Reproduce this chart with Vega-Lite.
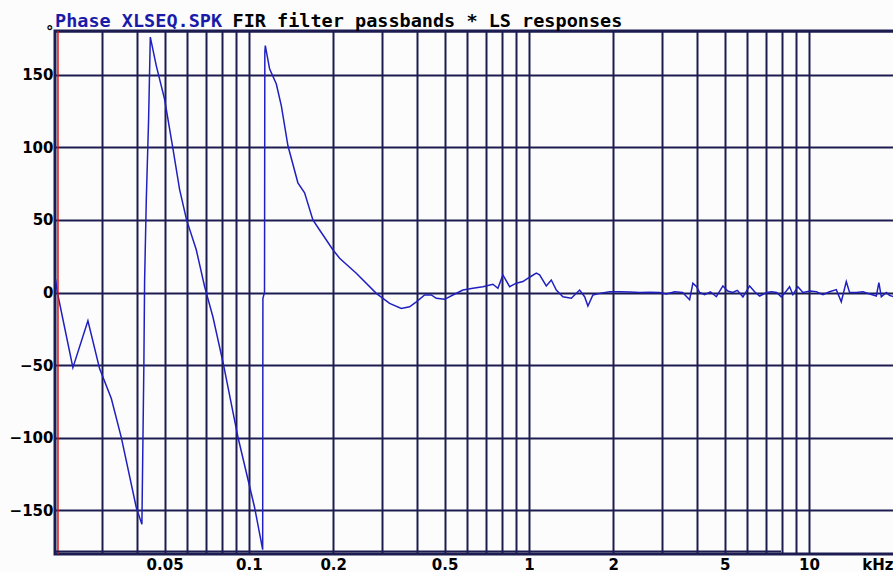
{
  "$schema": "https://vega.github.io/schema/vega-lite/v6.json",
  "autosize": "none",
  "width": 840,
  "height": 523,
  "padding": {"left": 55, "top": 31, "right": 0, "bottom": 18},
  "background": "#fcfcfc",
  "view": {"stroke": "#1c1c50", "strokeWidth": 3},
  "title": {
    "text": "Phase XLSEQ.SPK",
    "anchor": "start",
    "frame": "group",
    "offset": 5,
    "dy": 39,
    "baseline": "alphabetic",
    "font": "DejaVu Sans Mono",
    "fontSize": 18.5,
    "fontWeight": "bold",
    "color": "#1a1aa8"
  },
  "datasets": {
    "phase": [
      {"f": 0.0204, "v": 9},
      {"f": 0.0207, "v": 0},
      {"f": 0.02352, "v": -51.7},
      {"f": 0.02661, "v": -19.5},
      {"f": 0.02929, "v": -52.4},
      {"f": 0.03226, "v": -73},
      {"f": 0.03501, "v": -99.7},
      {"f": 0.03961, "v": -148},
      {"f": 0.04148, "v": -159.6},
      {"f": 0.04182, "v": -104},
      {"f": 0.04217, "v": -48},
      {"f": 0.04241, "v": 7.5},
      {"f": 0.04301, "v": 64},
      {"f": 0.04383, "v": 119},
      {"f": 0.04445, "v": 175.8},
      {"f": 0.0467, "v": 156},
      {"f": 0.05, "v": 133},
      {"f": 0.05354, "v": 99},
      {"f": 0.05655, "v": 71},
      {"f": 0.0599, "v": 50},
      {"f": 0.06487, "v": 29.4},
      {"f": 0.06948, "v": 4},
      {"f": 0.07437, "v": -16.7},
      {"f": 0.08121, "v": -50},
      {"f": 0.0915, "v": -100},
      {"f": 0.1048, "v": -148},
      {"f": 0.1120, "v": -177},
      {"f": 0.1122, "v": -4},
      {"f": 0.1137, "v": 0},
      {"f": 0.1140, "v": 165},
      {"f": 0.11444, "v": 170},
      {"f": 0.11854, "v": 154},
      {"f": 0.12529, "v": 143.5},
      {"f": 0.13058, "v": 128.5},
      {"f": 0.13785, "v": 101},
      {"f": 0.14962, "v": 75.5},
      {"f": 0.15808, "v": 68.6},
      {"f": 0.16928, "v": 50},
      {"f": 0.17886, "v": 43},
      {"f": 0.19953, "v": 29.4},
      {"f": 0.21085, "v": 23.6},
      {"f": 0.2418, "v": 13.3},
      {"f": 0.2851, "v": -0.6},
      {"f": 0.31805, "v": -7.5},
      {"f": 0.35018, "v": -11},
      {"f": 0.37497, "v": -9.8},
      {"f": 0.39627, "v": -6.4},
      {"f": 0.42413, "v": -1.7},
      {"f": 0.44812, "v": -1.7},
      {"f": 0.46697, "v": -4},
      {"f": 0.5, "v": -4.7},
      {"f": 0.53532, "v": -1.7},
      {"f": 0.58128, "v": 1.7},
      {"f": 0.63096, "v": 2.9},
      {"f": 0.68502, "v": 4},
      {"f": 0.74369, "v": 5.7},
      {"f": 0.77494, "v": 2.9},
      {"f": 0.80745, "v": 12.1},
      {"f": 0.85336, "v": 4},
      {"f": 0.90157, "v": 6.4},
      {"f": 0.95196, "v": 7.5},
      {"f": 1.0058, "v": 10.5},
      {"f": 1.0627, "v": 13.3},
      {"f": 1.092, "v": 12.1},
      {"f": 1.1537, "v": 4.5},
      {"f": 1.2023, "v": 8.6},
      {"f": 1.2527, "v": 1.7},
      {"f": 1.3225, "v": -2.9},
      {"f": 1.4171, "v": -4},
      {"f": 1.5175, "v": 1.7},
      {"f": 1.5811, "v": -2.9},
      {"f": 1.6247, "v": -9.3},
      {"f": 1.6928, "v": -1.7},
      {"f": 1.7886, "v": -0.6},
      {"f": 1.942, "v": 0.5},
      {"f": 2.1085, "v": 0.6},
      {"f": 2.2888, "v": 0.3},
      {"f": 2.4857, "v": 0},
      {"f": 2.6986, "v": 0.2},
      {"f": 2.93, "v": 0},
      {"f": 3.095, "v": -1},
      {"f": 3.315, "v": 0.5},
      {"f": 3.539, "v": 0},
      {"f": 3.749, "v": -5},
      {"f": 3.852, "v": 6.4},
      {"f": 3.971, "v": 4},
      {"f": 4.07, "v": 0},
      {"f": 4.241, "v": -1.5},
      {"f": 4.45, "v": 0.5},
      {"f": 4.67, "v": -2.9},
      {"f": 4.931, "v": 4.5},
      {"f": 5.13, "v": 1},
      {"f": 5.341, "v": 0},
      {"f": 5.55, "v": 1.5},
      {"f": 5.813, "v": -3},
      {"f": 6.142, "v": 4.5},
      {"f": 6.4, "v": 0.5},
      {"f": 6.668, "v": -2.4},
      {"f": 7.062, "v": 0},
      {"f": 7.35, "v": 0.5},
      {"f": 7.666, "v": 0},
      {"f": 7.968, "v": -3},
      {"f": 8.304, "v": 1},
      {"f": 8.533, "v": 4},
      {"f": 8.767, "v": -1.5},
      {"f": 9.134, "v": 4},
      {"f": 9.52, "v": 0},
      {"f": 10.1, "v": 1},
      {"f": 10.627, "v": 0.6},
      {"f": 11.22, "v": -1.5},
      {"f": 11.856, "v": 0.5},
      {"f": 12.527, "v": 2},
      {"f": 13.051, "v": -6.4},
      {"f": 13.6, "v": 7.5},
      {"f": 13.974, "v": 0},
      {"f": 14.767, "v": 0},
      {"f": 15.59, "v": 0.5},
      {"f": 16.5, "v": -1},
      {"f": 17.41, "v": -2.4},
      {"f": 17.78, "v": 6.8},
      {"f": 18.14, "v": -3},
      {"f": 18.9, "v": 0},
      {"f": 19.4, "v": -2},
      {"f": 20.2, "v": -3}
    ],
    "marker": [{"f": 0.0208}],
    "range": [{"f0": 0.0203, "f1": 7.95, "v": -178.3}]
  },
  "layer": [
    {
      "data": {"name": "phase"},
      "mark": {"type": "line", "color": "#2020c0", "strokeWidth": 1.5, "clip": true},
      "encoding": {
        "x": {
          "field": "f",
          "type": "quantitative",
          "scale": {"type": "log", "domain": [0.0203, 20.3], "nice": false},
          "axis": {
            "values": [0.03, 0.04, 0.05, 0.06, 0.07, 0.08, 0.09, 0.1, 0.2, 0.3, 0.4, 0.5, 0.6, 0.7, 0.8, 0.9, 1, 2, 3, 4, 5, 6, 7, 8, 9, 10],
            "labelExpr": "datum.value == 0.05 ? '0.05' : datum.value == 0.1 ? '0.1' : datum.value == 0.2 ? '0.2' : datum.value == 0.5 ? '0.5' : datum.value == 1 ? '1' : datum.value == 2 ? '2' : datum.value == 5 ? '5' : datum.value == 10 ? '10' : ''",
            "labelOverlap": false,
            "labelFlush": false,
            "labelBound": false,
            "labelFont": "DejaVu Sans",
            "labelFontSize": 15,
            "labelFontWeight": "bold",
            "labelColor": "#000000",
            "labelBaseline": "middle",
            "labelPadding": 10,
            "ticks": false,
            "domain": false,
            "grid": true,
            "gridColor": "#1c1c50",
            "gridWidth": 2,
            "gridOpacity": 1,
            "title": "kHz",
            "titleFont": "DejaVu Sans",
            "titleFontSize": 15,
            "titleFontWeight": "bold",
            "titleColor": "#000000",
            "titleAlign": "right",
            "titleBaseline": "middle",
            "titleX": 838,
            "titleY": 10,
            "titleAnchor": null
          }
        },
        "y": {
          "field": "v",
          "type": "quantitative",
          "scale": {"domain": [-180, 180], "nice": false, "zero": false},
          "axis": {
            "values": [-150, -100, -50, 0, 50, 100, 150, 180],
            "labelExpr": "datum.value == 180 ? '°' : datum.label",
            "labelFont": "DejaVu Sans",
            "labelFontSize": 15,
            "labelFontWeight": "bold",
            "labelColor": "#000000",
            "labelPadding": 2,
            "labelFlush": false,
            "labelOverlap": false,
            "labelBound": false,
            "ticks": false,
            "domain": false,
            "grid": true,
            "gridColor": "#1c1c50",
            "gridWidth": 2,
            "gridOpacity": 1,
            "title": "FIR filter passbands * LS responses",
            "titleFont": "DejaVu Sans Mono",
            "titleFontSize": 18.5,
            "titleFontWeight": "bold",
            "titleColor": "#000000",
            "titleAngle": 0,
            "titleAlign": "left",
            "titleBaseline": "alphabetic",
            "titleX": 177,
            "titleY": -5
          }
        }
      }
    },
    {
      "data": {"name": "marker"},
      "mark": {"type": "rule", "color": "#e01010", "strokeWidth": 1.5},
      "encoding": {"x": {"field": "f", "type": "quantitative"}}
    },
    {
      "data": {"name": "range"},
      "mark": {"type": "rule", "color": "#1c1c50", "strokeWidth": 2},
      "encoding": {
        "x": {"field": "f0", "type": "quantitative"},
        "x2": {"field": "f1"},
        "y": {"field": "v", "type": "quantitative"}
      }
    }
  ]
}
